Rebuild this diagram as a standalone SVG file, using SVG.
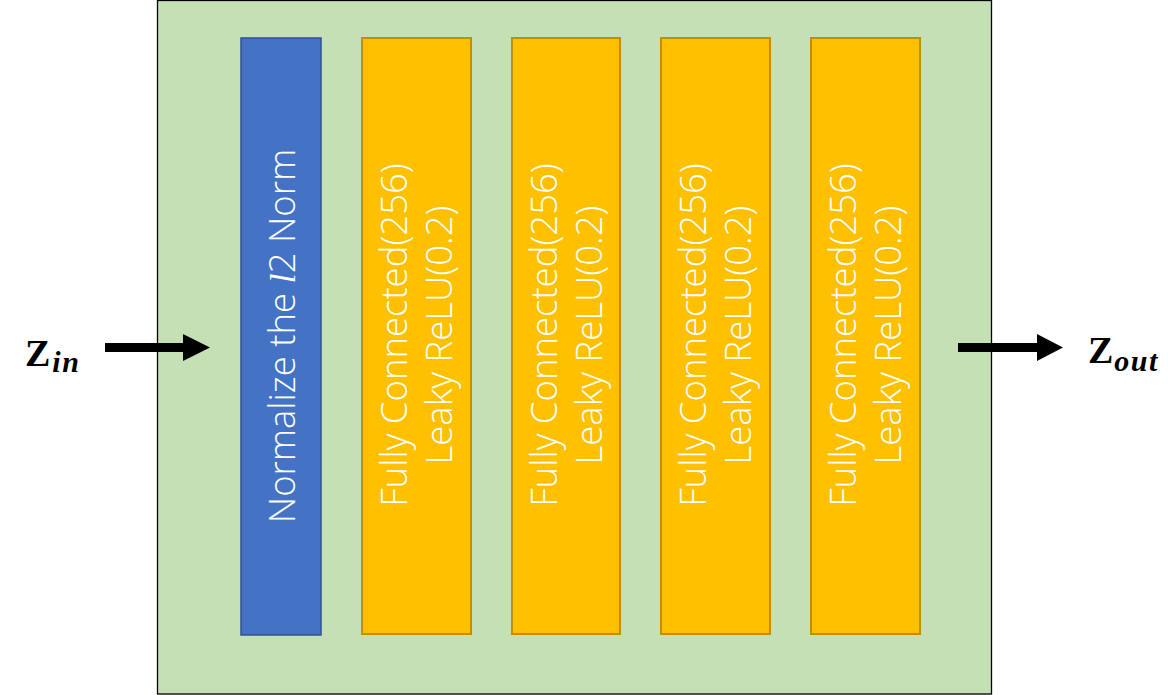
<svg xmlns="http://www.w3.org/2000/svg" width="1168" height="695" viewBox="0 0 1168 695">
<style>
.lbl{font-family:"Open Sans","Liberation Sans",sans-serif;font-weight:300;font-size:36.5px;fill:#ffffff;text-anchor:middle}
.fc{fill:#FFC000;stroke:#BF9000;stroke-width:2}
.z{font-family:"Liberation Serif","DejaVu Serif",serif;font-weight:bold;font-size:38px;fill:#000}
.sub{font-style:italic;font-size:30px;letter-spacing:1.5px}
.mi{font-family:"Liberation Serif","DejaVu Serif",serif;font-style:italic}
</style>
<rect width="1168" height="695" fill="#ffffff"/>
<g id="container">
<rect x="157.5" y="0.5" width="834" height="693.5" fill="#C5E0B4" stroke="#000" stroke-width="1.3"/>
</g>
<g id="norm">
<rect x="241" y="38" width="80" height="597" fill="#4472C4" stroke="#2F528F" stroke-width="1.5"/>
<text class="lbl" transform="translate(241,336) rotate(-90)" x="0" y="54" font-size="36">Normalize the <tspan class="mi">l</tspan>2 Norm</text>
</g>
<g id="fc1">
<rect class="fc" x="362" y="38" width="109" height="596"/>
<text class="lbl" transform="translate(362,335) rotate(-90)"><tspan x="0" y="45">Fully Connected(256)</tspan><tspan x="0" y="90">Leaky ReLU(0.2)</tspan></text>
</g>
<g id="fc2">
<rect class="fc" x="512" y="38" width="108" height="596"/>
<text class="lbl" transform="translate(512,335) rotate(-90)"><tspan x="0" y="45">Fully Connected(256)</tspan><tspan x="0" y="90">Leaky ReLU(0.2)</tspan></text>
</g>
<g id="fc3">
<rect class="fc" x="661" y="38" width="109" height="596"/>
<text class="lbl" transform="translate(661,335) rotate(-90)"><tspan x="0" y="45">Fully Connected(256)</tspan><tspan x="0" y="90">Leaky ReLU(0.2)</tspan></text>
</g>
<g id="fc4">
<rect class="fc" x="811" y="38" width="109" height="596"/>
<text class="lbl" transform="translate(811,335) rotate(-90)"><tspan x="0" y="45">Fully Connected(256)</tspan><tspan x="0" y="90">Leaky ReLU(0.2)</tspan></text>
</g>
<g id="zin">
<text class="z" x="25" y="366">Z<tspan class="sub" dx="2" dy="6">in</tspan></text>
</g>
<g id="zout">
<text class="z" x="1088" y="363">Z<tspan class="sub" dx="1" dy="8">out</tspan></text>
</g>
<g id="connectors">
<polygon points="105,343 183,343 183,334 210,347.5 183,361 183,352 105,352" fill="#000"/>
<polygon points="958,343 1037,343 1037,334 1063,347.5 1037,361 1037,352 958,352" fill="#000"/>
</g>
</svg>
